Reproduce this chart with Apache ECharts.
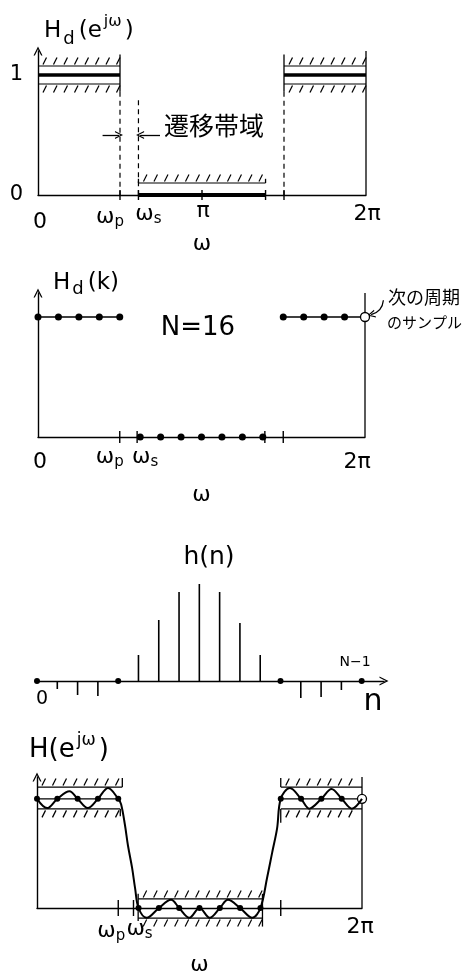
<!DOCTYPE html>
<html>
<head>
<meta charset="utf-8">
<script src="https://cdn.jsdelivr.net/npm/echarts@6/dist/echarts.min.js"></script>
<style>
  html, body { margin: 0; padding: 0; background: #fff; }
  #chart { width: 465px; height: 977px; }
</style>
</head>
<body>
<div id="chart"></div>
<script>
// Frequency-sampling FIR design, N = 16.
// The frequency axis is measured in sample steps k, with ω = 2πk/N.

// ---- samples of the desired response Hd(k) ----
const sampleK   = [0, 1, 2, 3, 4, 5, 6, 7, 8, 9, 10, 11, 12, 13, 14, 15];
const hdSamples = [1, 1, 1, 1, 1, 0, 0, 0, 0, 0, 0, 0, 1, 1, 1, 1];
const nextPeriodSample = [16, 1];

// ---- band edges (in k) ----
const wp = 4, ws = 4.9, wsEnd = 11.1, wpNext = 12, wPi = 8, w2Pi = 16;

// ---- impulse response h(n), n = 0 .. N ----
const nIdx = [0, 1, 2, 3, 4, 5, 6, 7, 8, 9, 10, 11, 12, 13, 14, 15, 16];
const hn   = [0, -0.08, -0.14, -0.15, 0, 0.26, 0.61, 0.89, 0.97, 0.89, 0.58, 0.26, 0, -0.17, -0.16, -0.09, 0];

// ---- resulting response H(e^jω) ----
const respK = [0, 0.5, 1, 1.6, 2, 2.5, 3, 3.5, 4,
               4.14, 4.33, 4.48, 4.68, 4.83, 5,
               5.4, 6, 6.6, 7, 7.5, 8, 8.5, 9, 9.4, 10, 10.6, 11,
               11.33, 11.58, 11.82, 12,
               12.45, 13, 13.4, 14, 14.5, 15, 15.5, 16];
const respH = [1, 0.915, 1, 1.07, 1, 0.915, 1, 1.1, 1,
               0.95, 0.76, 0.57, 0.37, 0.18, 0,
               -0.09, 0, 0.075, 0, -0.09, 0, -0.09, 0, 0.075, 0, -0.09, 0,
               0.28, 0.51, 0.73, 1,
               1.1, 1, 0.91, 1, 1.09, 1, 0.91, 1];

// ---- tolerance limits ----
const tolSpec   = { passLow: 0.925, passHigh: 1.075, stopHigh: 0.1 };
const tolResult = { passLow: 0.908, passHigh: 1.108, stopLow: -0.092, stopHigh: 0.083 };

// ---- tick labels ----
const freqTickNames = ['0', '{w|ω}{s|p}', '{w|ω}{s|s}', 'π', '2π'];
const levelNames = { 0: '0', 1: '1' };

const INK = '#000';
const FONT = '"DejaVu Sans", "Liberation Sans", sans-serif';
const JFONT = '"Noto Sans CJK JP", sans-serif';
const CHEVRON = 'path://M0,10L5,0L10,10L8.5,10L5,3L1.5,10Z';

const zip = (a, b) => a.map((v, i) => [v, b[i]]);

// hatched tolerance line: [k0, k1, level, side]  side>0 hatch above, side<0 below
function hatchSeries(gi, items) {
  return {
    type: 'custom', xAxisIndex: gi, yAxisIndex: gi, silent: true, clip: false,
    data: items,
    encode: { x: [0, 1], y: 2 },
    renderItem(params, api) {
      const a = api.coord([api.value(0), api.value(2)]);
      const b = api.coord([api.value(1), api.value(2)]);
      const side = api.value(3);
      const st = { stroke: INK, lineWidth: 1.2 };
      const ch = [{ type: 'line', shape: { x1: a[0], y1: a[1], x2: b[0], y2: b[1] }, style: st }];
      const step = 10.5, h = 7, s = 3.5;
      for (let x = a[0] + 5; x < b[0] - 3; x += step) {
        if (side > 0) ch.push({ type: 'line', shape: { x1: x, y1: a[1] - 1.5, x2: x + s, y2: a[1] - 1.5 - h }, style: st });
        else ch.push({ type: 'line', shape: { x1: x, y1: a[1] + 1.5 + h, x2: x + s, y2: a[1] + 1.5 }, style: st });
      }
      return { type: 'group', children: ch };
    }
  };
}

// straight segments: [x0, y0, x1, y1]
function segSeries(gi, items, width, dash) {
  return {
    type: 'custom', xAxisIndex: gi, yAxisIndex: gi, silent: true, clip: false,
    data: items,
    encode: { x: [0, 2], y: [1, 3] },
    renderItem(params, api) {
      const a = api.coord([api.value(0), api.value(1)]);
      const b = api.coord([api.value(2), api.value(3)]);
      return { type: 'line', shape: { x1: a[0], y1: a[1], x2: b[0], y2: b[1] },
               style: { stroke: INK, lineWidth: width, lineDash: dash || null } };
    }
  };
}

// short vertical ticks crossing the frequency axis
function tickSeries(gi, ks, half) {
  return {
    type: 'custom', xAxisIndex: gi, yAxisIndex: gi, silent: true, clip: false,
    data: ks.map(k => [k, 0]),
    encode: { x: 0, y: 1 },
    renderItem(params, api) {
      const p = api.coord([api.value(0), 0]);
      return { type: 'line', shape: { x1: p[0], y1: p[1] - half, x2: p[0], y2: p[1] + half },
               style: { stroke: INK, lineWidth: 1.4 } };
    }
  };
}

const labelRich = {
  w: { fontSize: 22, lineHeight: 26, verticalAlign: 'middle', fontFamily: FONT, color: INK },
  s: { fontSize: 15, lineHeight: 16, verticalAlign: 'bottom', fontFamily: FONT, color: INK }
};

// axis text placed at data positions, nudged by a pixel offset
function labelSeries(gi, items) {
  return {
    type: 'scatter', xAxisIndex: gi, yAxisIndex: gi, silent: true, clip: false,
    symbolSize: 1, itemStyle: { color: 'rgba(0,0,0,0)' },
    data: items.map(it => ({ value: [it.k, 0], name: it.text,
      label: { offset: it.off } })),
    label: {
      show: true, position: 'inside', formatter: p => p.name,
      fontSize: 22, fontFamily: FONT, color: INK, opacity: 1,
      textBorderWidth: 0, rich: labelRich
    }
  };
}

function arrowSeries(gi, items, curveness) {
  return {
    type: 'lines', coordinateSystem: 'cartesian2d', xAxisIndex: gi, yAxisIndex: gi,
    silent: true, clip: false,
    symbol: ['none', CHEVRON], symbolSize: [8, 8],
    lineStyle: { color: INK, width: 1.3, curveness: curveness || 0, opacity: 1 },
    data: items.map(c => ({ coords: c }))
  };
}

function dotSeries(gi, data, size) {
  return { type: 'scatter', xAxisIndex: gi, yAxisIndex: gi, silent: true, clip: false,
           symbolSize: size, itemStyle: { color: INK, opacity: 1 }, data };
}
function openDot(gi, pt) {
  return { type: 'scatter', xAxisIndex: gi, yAxisIndex: gi, silent: true, clip: false,
           symbolSize: 9, itemStyle: { color: '#fff', borderColor: INK, borderWidth: 1.3, opacity: 1 }, data: [pt] };
}

const grids = [
  { left: 38, top: 51,  width: 328, height: 144 },
  { left: 38, top: 293, width: 327, height: 144 },
  { left: 37, top: 561, width: 347, height: 150 },
  { left: 37, top: 777, width: 325, height: 144 }
];

const xAxes = grids.map((g, i) => ({
  gridIndex: i, type: 'value', min: 0, max: i === 2 ? 17.1 : w2Pi,
  axisLine: { show: true, onZero: true, lineStyle: { color: INK, width: 1.4 },
              symbol: i === 2 ? ['none', CHEVRON] : ['none', 'none'], symbolSize: [9, 9] },
  axisTick: { show: false }, axisLabel: { show: false }, splitLine: { show: false },
  name: i === 2 ? '' : 'ω', nameLocation: 'middle', nameGap: [38, 47, 0, 46][i],
  nameTextStyle: { fontSize: 22, color: INK, fontFamily: FONT }
}));

const yAxes = grids.map((g, i) => ({
  gridIndex: i, type: 'value',
  min: i === 2 ? -0.3 : 0, max: 1.2, interval: i === 2 ? 0.3 : 1,
  axisLine: { show: i !== 2, onZero: false, lineStyle: { color: INK, width: 1.4 },
              symbol: ['none', CHEVRON], symbolSize: [9, 9] },
  axisTick: { show: false }, splitLine: { show: false },
  axisLabel: { show: i === 0, margin: 15, fontSize: 21, color: INK, fontFamily: FONT,
               formatter: v => levelNames[v] || '' }
}));

const series = [
  // ---------- Hd(e^jω): ideal response with tolerance scheme ----------
  hatchSeries(0, [
    [0, wp, tolSpec.passHigh, 1], [0, wp, tolSpec.passLow, -1],
    [wpNext, w2Pi, tolSpec.passHigh, 1], [wpNext, w2Pi, tolSpec.passLow, -1],
    [ws, wsEnd, tolSpec.stopHigh, 1]
  ]),
  segSeries(0, [[0, 1, wp, 1], [wpNext, 1, w2Pi, 1]], 3.5),
  segSeries(0, [[ws, 0, wsEnd, 0]], 4),
  segSeries(0, [[wp, 1.17, wp, 0.86], [wpNext, 1.17, wpNext, 0.86], [w2Pi, 0, w2Pi, 1.2],
                [ws, 0.135, ws, tolSpec.stopHigh], [wsEnd, 0.135, wsEnd, tolSpec.stopHigh]], 1.3),
  segSeries(0, [[wp, 0.86, wp, 0], [ws, 0.79, ws, 0], [wpNext, 0.86, wpNext, 0]], 1.2, [5, 4]),
  tickSeries(0, [wp, ws, wPi, wsEnd, wpNext], 5),
  arrowSeries(0, [[[3.15, 0.5], [3.95, 0.5]], [[5.95, 0.5], [4.98, 0.5]]]),
  labelSeries(0, [
    { k: 0, text: freqTickNames[0], off: [2, 27] },
    { k: wp, text: freqTickNames[1], off: [-10, 22] },
    { k: ws, text: freqTickNames[2], off: [10, 19] },
    { k: wPi, text: freqTickNames[3], off: [1, 16] },
    { k: w2Pi, text: freqTickNames[4], off: [1, 19] }
  ]),

  // ---------- Hd(k): frequency samples ----------
  segSeries(1, [[0, 1, wp, 1], [wpNext, 1, w2Pi, 1], [w2Pi, 0, w2Pi, 1.2]], 1.3),
  tickSeries(1, [wp, 4.85, wsEnd, wpNext], 6),
  dotSeries(1, zip(sampleK, hdSamples), 7),
  openDot(1, nextPeriodSample),
  arrowSeries(1, [[[16.9, 1.14], [16.3, 1.02]]], 0.35),
  labelSeries(1, [
    { k: 0, text: freqTickNames[0], off: [2, 25] },
    { k: wp, text: freqTickNames[1], off: [-10, 20] },
    { k: 4.85, text: freqTickNames[2], off: [8, 20] },
    { k: w2Pi, text: freqTickNames[4], off: [-8, 25] }
  ]),

  // ---------- h(n): impulse response ----------
  {
    type: 'bar', xAxisIndex: 2, yAxisIndex: 2, silent: true, barWidth: 1.6,
    itemStyle: { color: INK }, data: zip(nIdx, hn)
  },
  dotSeries(2, zip(nIdx, hn).filter(p => p[1] === 0), 6),

  // ---------- H(e^jω): realised response ----------
  hatchSeries(3, [
    [0, 4.2, tolResult.passHigh, 1], [0, 4.1, tolResult.passLow, -1],
    [wpNext, w2Pi, tolResult.passHigh, 1], [wpNext, w2Pi, tolResult.passLow, -1],
    [4.98, wsEnd, tolResult.stopHigh, 1], [4.98, wsEnd, tolResult.stopLow, -1]
  ]),
  segSeries(3, [[0, 1, wp, 1], [wpNext, 1, w2Pi, 1], [w2Pi, 0, w2Pi, 1.2],
                [4.2, 1.19, 4.2, tolResult.passHigh], [4.1, tolResult.passLow, 4.1, 0.84],
                [wpNext, 1.19, wpNext, tolResult.passHigh], [wpNext, tolResult.passLow, wpNext, 0.78],
                [4.98, 0.13, 4.98, -0.12], [wsEnd, 0.13, wsEnd, -0.17]], 1.3),
  tickSeries(3, [wp, 4.75, wpNext], 8),
  {
    type: 'line', xAxisIndex: 3, yAxisIndex: 3, silent: true, clip: false,
    smooth: 0.35, showSymbol: false, data: zip(respK, respH),
    lineStyle: { color: INK, width: 2 }
  },
  dotSeries(3, zip(sampleK, hdSamples), 6),
  openDot(3, nextPeriodSample),
  labelSeries(3, [
    { k: wp, text: freqTickNames[1], off: [-7, 23] },
    { k: 4.9, text: freqTickNames[2], off: [3, 21] },
    { k: w2Pi, text: freqTickNames[4], off: [-2, 19] }
  ])
];

// titles and notes
function titleRich(main, sub, sup, lh) {
  return {
    b: { fontSize: main, lineHeight: lh, verticalAlign: 'middle', fontFamily: FONT, fill: INK, padding: [0, 1, 0, 1] },
    d: { fontSize: sub, lineHeight: sub + 2, verticalAlign: 'bottom', fontFamily: FONT, fill: INK, padding: [0, 3, 0, 1] },
    u: { fontSize: sup, lineHeight: sup, verticalAlign: 'top', fontFamily: FONT, fill: INK, padding: [0, 2, 0, 1] }
  };
}
function txt(x, y, text, opt) {
  opt = opt || {};
  return {
    type: 'text', x, y, silent: true,
    style: Object.assign({
      text, fill: INK, fontSize: 22, fontFamily: FONT,
      align: opt.align || 'center', verticalAlign: 'middle',
      textAlign: opt.align || 'center', textVerticalAlign: 'middle'
    }, opt.style || {})
  };
}

const graphics = [
  txt(43, 31, '{b|H}{d|d}{b|(e}{u|jω}{b|)}', { align: 'left', style: { rich: titleRich(23, 18, 16, 34) } }),
  txt(214, 125, '遷移帯域', { style: { fontSize: 25, fontFamily: JFONT } }),
  txt(52, 283, '{b|H}{d|d}{b|(k)}', { align: 'left', style: { rich: titleRich(23, 18, 16, 30) } }),
  txt(198, 328, 'N=16', { style: { fontSize: 26 } }),
  txt(388, 297, '次の周期', { align: 'left', style: { fontSize: 18, fontFamily: JFONT } }),
  txt(387, 322, 'のサンプル', { align: 'left', style: { fontSize: 15, fontFamily: JFONT } }),
  txt(209, 557, 'h(n)', { style: { fontSize: 25 } }),
  txt(355, 662, 'N−1', { style: { fontSize: 14 } }),
  txt(42, 699, '0', { style: { fontSize: 19 } }),
  txt(373, 702, 'n', { style: { fontSize: 30 } }),
  txt(28, 750, '{b|H(e}{u|jω}{b|)}', { align: 'left', style: { rich: titleRich(26, 18, 17, 36) } })
];

const chart = echarts.init(document.getElementById('chart'));
chart.setOption({
  animation: false,
  backgroundColor: '#fff',
  grid: grids,
  xAxis: xAxes,
  yAxis: yAxes,
  series,
  graphic: graphics
});
</script>
</body>
</html>
